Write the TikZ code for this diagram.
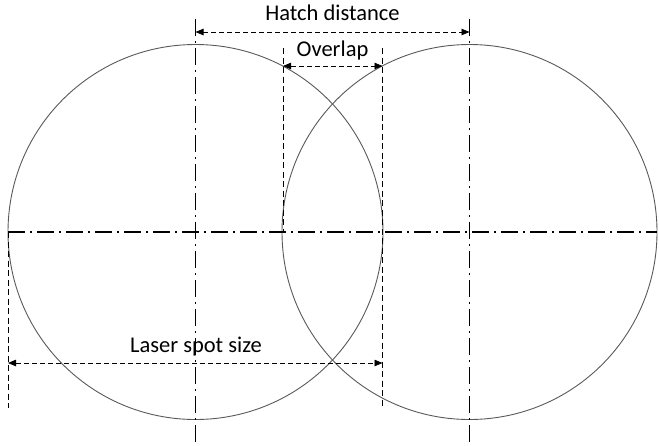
\documentclass[tikz,border=0pt]{standalone}
\usepackage{fontspec}
\setmainfont{Carlito}
\usetikzlibrary{arrows.meta}
\begin{document}
\begin{tikzpicture}[x=1pt,y=-1pt,
  circ/.style={draw=black!65,line width=0.9pt},
  axisline/.style={draw=black,line width=1.4pt,dash pattern=on 17pt off 5pt on 2pt off 5pt},
  guide/.style={draw=black,line width=0.8pt,dash pattern=on 6pt off 3.5pt},
  dimarrow/.style={draw=black,line width=0.8pt,dash pattern=on 5pt off 3pt,{Triangle[length=8pt,width=6.5pt]}-{Triangle[length=8pt,width=6.5pt]}},
  lbl/.style={font=\fontsize{22.5}{26}\selectfont,anchor=base,inner sep=0pt}]
\useasboundingbox (0,0) rectangle (659,445);
% centres
\coordinate (c1) at (195.5,232);
\coordinate (c2) at (469.5,232);
% circles
\draw[circ] (c1) circle[radius=187.5];
\draw[circ] (c2) circle[radius=187.5];
% centre lines
\coordinate (h1) at (8,232);
\coordinate (h2) at (657,232);
\draw[axisline] (h1) -- (h2);
\coordinate (v1t) at (195.5,19);
\coordinate (v1b) at (195.5,445);
\coordinate (v2t) at (469.5,19);
\coordinate (v2b) at (469.5,445);
\draw[axisline] (v1t) -- (v1b);
\draw[axisline] (v2t) -- (v2b);
% guide lines
\coordinate (g1t) at (283,48);
\coordinate (g1b) at (283,232);
\coordinate (g2t) at (382.5,48);
\coordinate (g2b) at (382.5,408);
\coordinate (g3t) at (8,232);
\coordinate (g3b) at (8,408);
\draw[guide] (g1t) -- (g1b);
\draw[guide] (g2t) -- (g2b);
\draw[guide] (g3t) -- (g3b);
% dimension arrows
\coordinate (a1) at (195.5,32);
\coordinate (a2) at (469.5,32);
\draw[dimarrow] (a1) -- (a2);
\coordinate (b1) at (283,66);
\coordinate (b2) at (382.5,66);
\draw[dimarrow] (b1) -- (b2);
\coordinate (d1) at (8,363);
\coordinate (d2) at (382.5,363);
\draw[dimarrow] (d1) -- (d2);
% labels
\node[lbl] (hatch) at (332.5,20.5) {Hatch distance};
\node[lbl] (overlap) at (332.5,56) {Overlap};
\node[lbl] (laser) at (196,352) {Laser spot size};
\end{tikzpicture}
\end{document}
